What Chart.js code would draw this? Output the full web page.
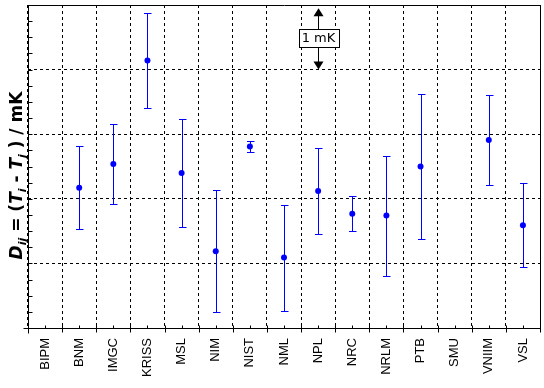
<!DOCTYPE html>
<html><head><meta charset="utf-8">
<script src="https://cdn.jsdelivr.net/npm/chart.js@4.4.1/dist/chart.umd.min.js"></script>
<style>html,body{margin:0;padding:0;background:#fff;}#wrap{width:544px;height:388px;}</style>
</head><body><div id="wrap"><canvas id="c" width="544" height="388"></canvas></div>
<script>
const categories = ['BIPM','BNM','IMGC','KRISS','MSL','NIM','NIST','NML','NPL','NRC','NRLM','PTB','SMU','VNIIM','VSL'];
const differences = [null, 0.17, 0.54, 2.14, 0.40, -0.81, 0.81, -0.91, 0.12, -0.23, -0.26, 0.50, null, 0.91, -0.41];
const uncertainties = [null, 0.64, 0.62, 0.74, 0.84, 0.94, 0.08, 0.82, 0.67, 0.27, 0.93, 1.12, null, 0.70, 0.65];
const yMin = -2, yMax = 3, yStep = 1, yMinorStep = 0.25;
const scaleBarCategory = 'NPL', scaleBarFrom = 2, scaleBarTo = 2.95, scaleBarLabel = '1 mK';
const titleParts = [
  ['D', 'i'], ['ij', 's'], [' = (', 'b'], ['T', 'i'], ['i', 's'], [' - ', 'b'], ['T', 'i'], ['j', 's'], [' ) / mK', 'b']
];

const BLUE = '#0000ff';

const errorBarPlugin = {
  id: 'errbars',
  beforeDatasetsDraw(chart) {
    const {ctx, scales: {x, y}} = chart;
    ctx.save();
    ctx.strokeStyle = BLUE; ctx.lineWidth = 1; ctx.setLineDash([]);
    differences.forEach((v, i) => {
      if (v == null) return;
      const px = Math.round(x.getPixelForValue(i)) + 0.5;
      const top = Math.round(y.getPixelForValue(v + uncertainties[i])) + 0.5;
      const bot = Math.round(y.getPixelForValue(v - uncertainties[i])) + 0.5;
      ctx.beginPath();
      ctx.moveTo(px, top); ctx.lineTo(px, bot);
      ctx.moveTo(px - 3.5, top); ctx.lineTo(px + 4, top);
      ctx.moveTo(px - 3.5, bot); ctx.lineTo(px + 4, bot);
      ctx.stroke();
    });
    ctx.restore();
  }
};

const framePlugin = {
  id: 'frame',
  afterDraw(chart) {
    const {ctx, chartArea, scales: {x, y}} = chart;
    const L = Math.round(chartArea.left) + 0.5, R = Math.round(chartArea.right) + 0.5;
    const T = Math.round(chartArea.top) + 0.5, B = Math.round(chartArea.bottom) + 0.5;
    ctx.save();
    ctx.strokeStyle = '#000'; ctx.lineWidth = 1; ctx.setLineDash([]);
    ctx.beginPath();
    ctx.moveTo(L - 5, B); ctx.lineTo(R, B);
    ctx.moveTo(L, T); ctx.lineTo(L, B + 5);
    ctx.moveTo(L, T); ctx.lineTo(R, T); ctx.lineTo(R, B);
    for (let v = yMin; v <= yMax + 1e-9; v += yMinorStep) {
      const py = Math.round(y.getPixelForValue(v)) + 0.5;
      ctx.moveTo(L, py); ctx.lineTo(L + 4, py);
    }
    const step = x.getPixelForValue(1) - x.getPixelForValue(0);
    for (let i = 0; i < categories.length; i++) {
      const cx = Math.round(x.getPixelForValue(i)) + 0.5;
      ctx.moveTo(cx, B); ctx.lineTo(cx, B - 3);
      const bx = Math.round(x.getPixelForValue(i) - step / 2) + 0.5;
      ctx.moveTo(bx, B - 3); ctx.lineTo(bx, B + 4);
    }
    const ex = Math.round(x.getPixelForValue(categories.length - 1) + step / 2) + 0.5;
    ctx.moveTo(ex, B - 3); ctx.lineTo(ex, B + 4);
    ctx.stroke();

    // scale bar annotation
    const ax = Math.round(x.getPixelForValue(categories.indexOf(scaleBarCategory))) + 0.5;
    const yTop = y.getPixelForValue(scaleBarTo), yBot = y.getPixelForValue(scaleBarFrom);
    const mid = (yTop + yBot) / 2;
    ctx.font = '13px "DejaVu Sans"';
    const tw = ctx.measureText(scaleBarLabel).width;
    const bw = Math.round(tw + 6), bh = 18;
    const bx0 = Math.round(ax - bw / 2), by0 = Math.round(mid - bh / 2 - 1);
    ctx.beginPath();
    ctx.moveTo(ax, yTop + 6); ctx.lineTo(ax, by0);
    ctx.moveTo(ax, by0 + bh); ctx.lineTo(ax, yBot - 6);
    ctx.stroke();
    ctx.fillStyle = '#000';
    ctx.beginPath();
    ctx.moveTo(ax, yTop); ctx.lineTo(ax - 5, yTop + 8); ctx.lineTo(ax + 5, yTop + 8); ctx.closePath(); ctx.fill();
    ctx.beginPath();
    ctx.moveTo(ax, yBot); ctx.lineTo(ax - 5, yBot - 8); ctx.lineTo(ax + 5, yBot - 8); ctx.closePath(); ctx.fill();
    ctx.fillStyle = '#fff';
    ctx.fillRect(bx0, by0, bw, bh);
    ctx.strokeRect(bx0 + 0.5, by0 + 0.5, bw, bh);
    ctx.fillStyle = '#000';
    ctx.textAlign = 'center'; ctx.textBaseline = 'middle';
    ctx.fillText(scaleBarLabel, ax, by0 + bh / 2 + 1);

    // y axis title
    const fonts = {b: 'bold 17px "DejaVu Sans"', i: 'bold italic 17px "DejaVu Sans"', s: 'bold italic 11px "DejaVu Sans"'};
    let total = 0;
    titleParts.forEach(([t, f]) => { ctx.font = fonts[f]; total += ctx.measureText(t).width; });
    ctx.translate(22, (chartArea.top + chartArea.bottom) / 2 + 9);
    ctx.rotate(-Math.PI / 2);
    ctx.textAlign = 'left'; ctx.textBaseline = 'alphabetic';
    let cx = -total / 2;
    titleParts.forEach(([t, f]) => {
      ctx.font = fonts[f];
      ctx.fillText(t, cx, f === 's' ? 4 : 0);
      cx += ctx.measureText(t).width;
    });
    ctx.restore();
  }
};

new Chart(document.getElementById('c'), {
  type: 'line',
  data: {
    labels: categories,
    datasets: [{
      data: differences,
      showLine: false,
      pointStyle: 'circle',
      pointRadius: 3,
      pointBackgroundColor: BLUE,
      pointBorderColor: BLUE,
      pointBorderWidth: 0
    }]
  },
  options: {
    responsive: false,
    animation: false,
    devicePixelRatio: 1,
    layout: {padding: {left: 0, right: 2, top: 5, bottom: 0}},
    plugins: {legend: {display: false}, tooltip: {enabled: false}},
    scales: {
      x: {
        type: 'category',
        offset: true,
        grid: {offset: true, color: '#000', lineWidth: 1, drawTicks: false},
        border: {display: false, dash: [3, 3]},
        ticks: {minRotation: 90, maxRotation: 90, padding: 10, color: '#000', font: {family: 'Liberation Sans', size: 13}},
        afterFit(s) { s.height = 60; s.paddingLeft = 0; s.paddingRight = 0; }
      },
      y: {
        min: yMin, max: yMax,
        grid: {color: '#000', lineWidth: 1, drawTicks: false},
        border: {display: false, dash: [3, 3]},
        ticks: {display: false, stepSize: yStep},
        afterFit(s) { s.width = 28; }
      }
    }
  },
  plugins: [errorBarPlugin, framePlugin]
});
</script></body></html>
